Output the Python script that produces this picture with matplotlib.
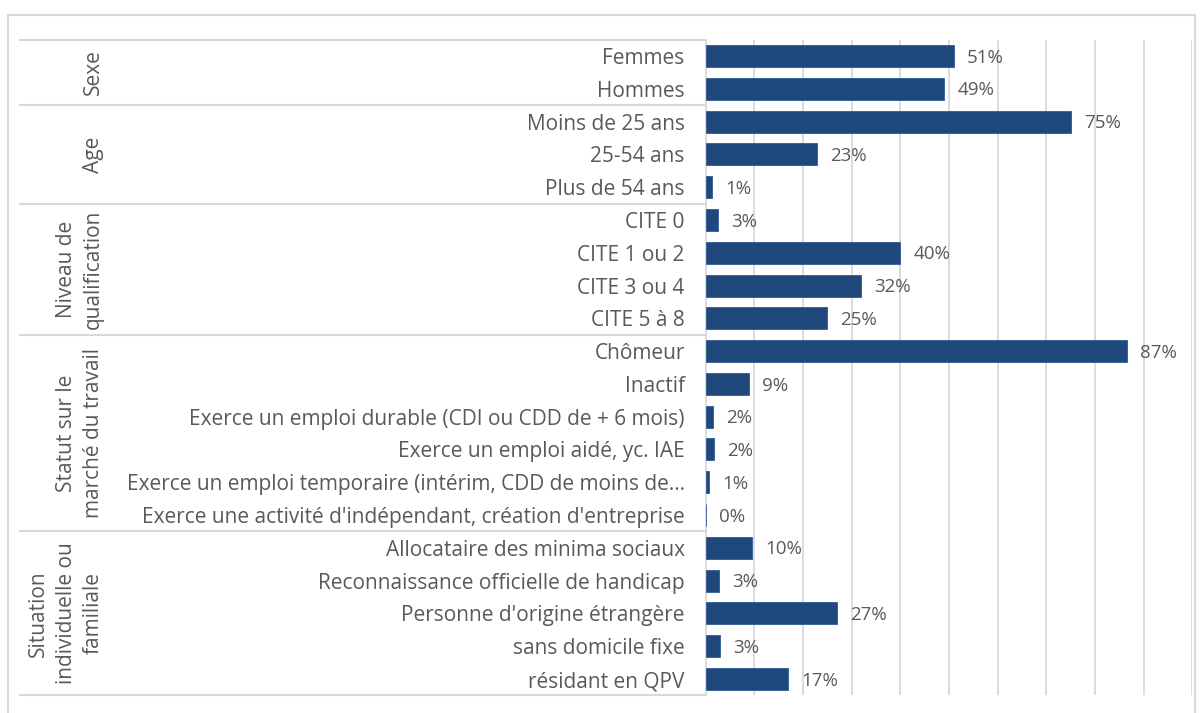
import matplotlib.pyplot as plt
from matplotlib.lines import Line2D
from matplotlib.transforms import blended_transform_factory

# data
categories = ['Femmes', 'Hommes',
              'Moins de 25 ans', '25-54 ans', 'Plus de 54 ans',
              'CITE 0', 'CITE 1 ou 2', 'CITE 3 ou 4', 'CITE 5 à 8',
              'Chômeur', 'Inactif',
              'Exerce un emploi durable (CDI ou CDD de + 6 mois)',
              'Exerce un emploi aidé, yc. IAE',
              'Exerce un emploi temporaire (intérim, CDD de moins de…',
              "Exerce une activité d'indépendant, création d'entreprise",
              'Allocataire des minima sociaux',
              'Reconnaissance officielle de handicap',
              "Personne d'origine étrangère",
              'sans domicile fixe',
              'résidant en QPV']
values = [0.51, 0.49,
          0.75, 0.23, 0.013,
          0.026, 0.40, 0.32, 0.25,
          0.866, 0.09, 0.015, 0.018, 0.008, 0.0,
          0.095, 0.027, 0.27, 0.03, 0.17]
groups = ['Sexe', 'Age', 'Niveau de\nqualification',
          'Statut sur le\nmarché du travail',
          'Situation\nindividuelle ou\nfamiliale']
group_sizes = [2, 3, 4, 6, 5]

plt.rcParams['font.family'] = ['Open Sans', 'DejaVu Sans']
W, H = 1203, 713
fig = plt.figure(figsize=(W / 100, H / 100), dpi=100)
ax = fig.add_axes([705.5 / W, 1 - 695.4 / H, (1192.3 - 705.5) / W, (695.4 - 39.6) / H])

txt = '#595959'
grid = '#d9d9d9'
n = len(categories)
y = list(range(n))
ax.barh(y, values, height=0.67, color='#1F497D', edgecolor='#2E5C94', linewidth=0.6, zorder=3)
ax.set_ylim(n - 0.5, -0.5)
ax.set_xlim(0, 1.0)
ax.set_xticks([i / 10 for i in range(1, 11)])
ax.xaxis.grid(True, color=grid, linewidth=1.3, zorder=0)
ax.tick_params(axis='x', length=0, labelbottom=False)
ax.set_yticks(y)
ax.set_yticklabels(categories, fontsize=15, color=txt)
ax.tick_params(axis='y', length=0, pad=15)
for s in ['top', 'right', 'bottom']:
    ax.spines[s].set_visible(False)
ax.spines['left'].set_color(grid)
ax.spines['left'].set_linewidth(1.3)

for i, v in enumerate(values):
    ax.text(v + 0.027, i + 0.05, f'{round(v * 100):.0f}%', va='center', ha='left',
            fontsize=13.5, color=txt)

# group separators and labels
tr = blended_transform_factory(fig.transFigure, ax.transData)
start = 0
bounds = [-0.5]
for g, size in zip(groups, group_sizes):
    end = start + size
    bounds.append(end - 0.5)
    ax.text(104 / W, (start + end - 1) / 2, g, transform=tr, rotation=90,
            ha='right', va='center', multialignment='center',
            fontsize=15, color=txt, linespacing=1.4)
    start = end
for b in bounds:
    ax.add_line(Line2D([20 / W, 705.5 / W], [b, b], transform=tr, color=grid,
                       linewidth=1.5, clip_on=False))

# outer frame
fig.add_artist(Line2D([8 / W, 8 / W], [0, 1 - 15 / H], color='#d9d9d9', linewidth=1.5))
fig.add_artist(Line2D([8 / W, 1195 / W], [1 - 15 / H, 1 - 15 / H], color='#d9d9d9', linewidth=1.5))
fig.add_artist(Line2D([1195 / W, 1195 / W], [0, 1 - 15 / H], color='#d9d9d9', linewidth=1.5))

fig.savefig('out.png', dpi=100)
